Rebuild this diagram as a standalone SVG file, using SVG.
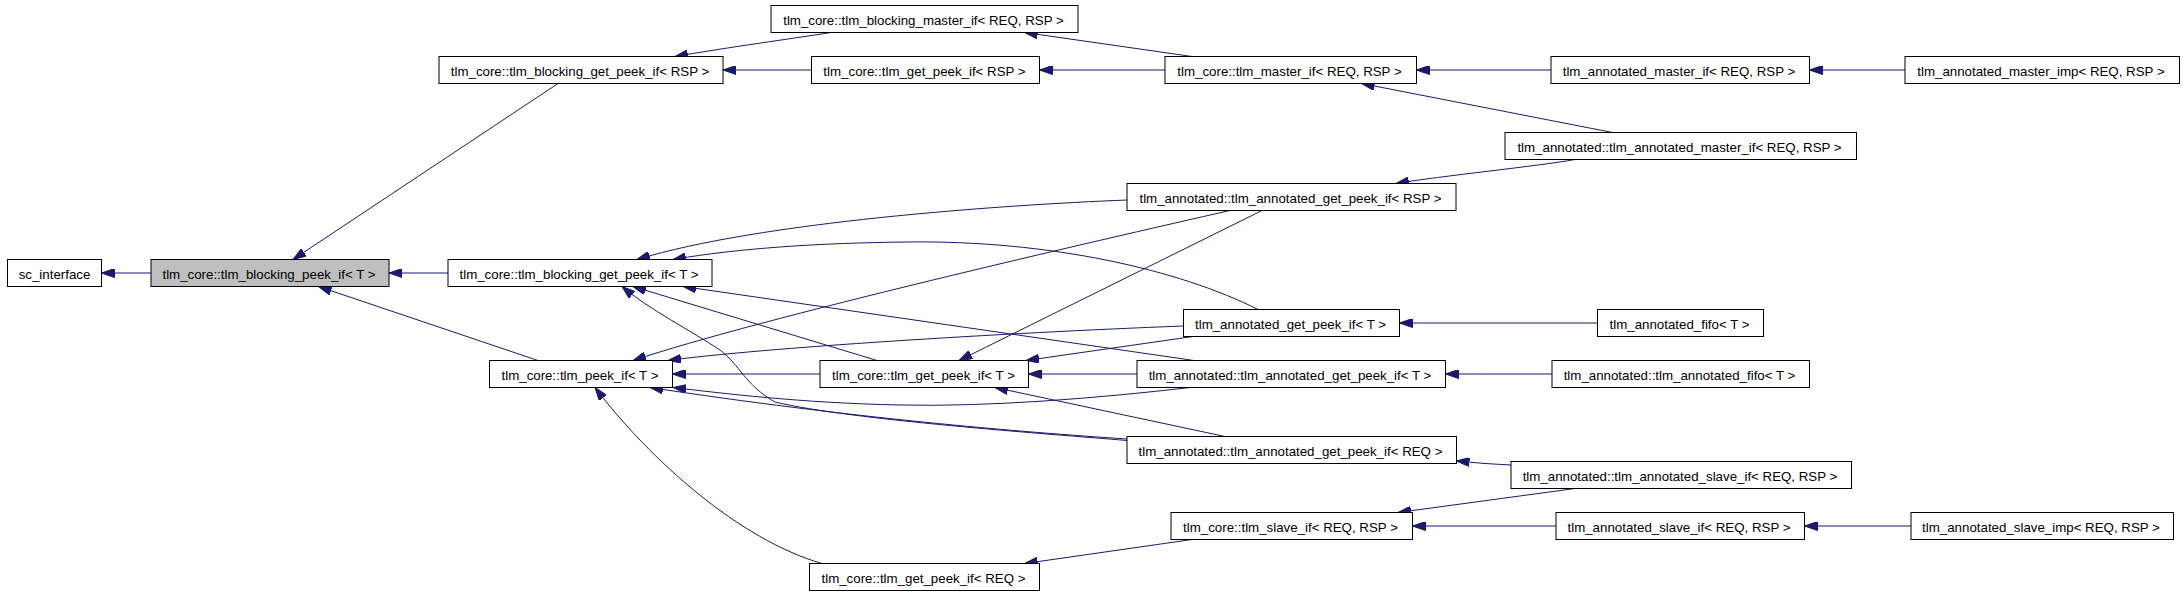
<svg xmlns="http://www.w3.org/2000/svg" width="2184" height="595" viewBox="0 0 2184 595">
<style>
.n rect{fill:#ffffff;stroke:#000000;stroke-width:1}
.n text{font-family:"Liberation Sans",Arial,sans-serif;font-size:13.3px;fill:#000000;text-anchor:middle}
.e path{fill:none;stroke:#191970;stroke-width:1;marker-end:url(#ah)}
</style>
<defs>
<marker id="ah" viewBox="0 0 13 9" refX="13" refY="4.5" markerUnits="userSpaceOnUse" markerWidth="13" markerHeight="9" orient="auto">
<path d="M0,0 L13,4.5 L0,9 z" fill="#191970" stroke="#191970" stroke-width="1"/>
</marker>
</defs>
<rect width="2184" height="595" fill="#ffffff"/>
<g id="edges" class="e">
<path d="M151,273 L101.5,273"/>
<path d="M448,273 L389,273"/>
<path d="M558,83.5 L293,259.5"/>
<path d="M538,360.5 L318.5,286.5"/>
<path d="M811.5,70 L723,70"/>
<path d="M831,32.5 C790,39 730,47 675,56.5"/>
<path d="M1192,56.5 L1024.7,32.5"/>
<path d="M1165,70 L1039.5,70"/>
<path d="M1551,70 L1416.5,70"/>
<path d="M1905,70 L1809.5,70"/>
<path d="M1612.5,132.5 L1361.6,83.5"/>
<path d="M1575,159.5 C1540,166 1440,176 1396,183.5"/>
<path d="M1127,200 C1000,205 760,222 637,259.5"/>
<path d="M1230,210.5 C1100,240 760,318 633,360.5"/>
<path d="M1262,210.5 L959,360.5"/>
<path d="M1258,309.5 C1180,270 1050,240 906,242 C820,243 740,248 673,259.5"/>
<path d="M1183.5,326 C1000,333 760,348 668,360.5"/>
<path d="M1193,336.5 L1026,360.5"/>
<path d="M1597.5,323 L1399.5,323"/>
<path d="M877,360.5 L633,286.5"/>
<path d="M820,374 L672.5,374"/>
<path d="M1194,360.5 L683,286.5"/>
<path d="M1137,374 L1028.5,374"/>
<path d="M1190,387.5 C1100,398 990,407 900,405 C800,403 720,393 673,387.5"/>
<path d="M1552,374 L1445.5,374"/>
<path d="M1127,440.5 C1050,434 850,420 775,402 C745,385 740,365 720,350 C690,330 650,310 622,286.5"/>
<path d="M1127,439 C1020,432 850,418 650,387.5"/>
<path d="M1225,436.5 L995,387.5"/>
<path d="M1511,465 L1485,463.5 L1456.5,461"/>
<path d="M1575,488.5 L1398,512.5"/>
<path d="M1192,539.5 L1024.7,563.5"/>
<path d="M1556,526 L1412.5,526"/>
<path d="M1911,526 L1804.5,526"/>
<path d="M822,563.5 C740,540 650,460 595,387.5"/>
</g>
<g id="sc_interface" class="n"><rect x="7.5" y="259.5" width="94" height="27"/><text x="54.5" y="278.5">sc_interface</text></g>
<g id="tlm_blocking_peek_if_T" class="n"><rect x="151" y="259.5" width="238" height="27" style="fill:#bfbfbf"/><text x="269" y="278.5">tlm_core::tlm_blocking_peek_if&lt; T &gt;</text></g>
<g id="tlm_blocking_get_peek_if_RSP" class="n"><rect x="439" y="56.5" width="284" height="27"/><text x="580" y="75.5">tlm_core::tlm_blocking_get_peek_if&lt; RSP &gt;</text></g>
<g id="tlm_blocking_get_peek_if_T" class="n"><rect x="448" y="259.5" width="264" height="27"/><text x="579" y="278.5">tlm_core::tlm_blocking_get_peek_if&lt; T &gt;</text></g>
<g id="tlm_blocking_master_if" class="n"><rect x="771" y="5.5" width="307" height="27"/><text x="923.5" y="24.5">tlm_core::tlm_blocking_master_if&lt; REQ, RSP &gt;</text></g>
<g id="tlm_get_peek_if_RSP" class="n"><rect x="811.5" y="56.5" width="228" height="27"/><text x="924.5" y="75.5">tlm_core::tlm_get_peek_if&lt; RSP &gt;</text></g>
<g id="tlm_master_if" class="n"><rect x="1165" y="56.5" width="251.5" height="27"/><text x="1289.5" y="75.5">tlm_core::tlm_master_if&lt; REQ, RSP &gt;</text></g>
<g id="tlm_annotated_master_if" class="n"><rect x="1551" y="56.5" width="258.5" height="27"/><text x="1679" y="75.5">tlm_annotated_master_if&lt; REQ, RSP &gt;</text></g>
<g id="tlm_annotated_master_imp" class="n"><rect x="1905" y="56.5" width="274.5" height="27"/><text x="2041" y="75.5">tlm_annotated_master_imp&lt; REQ, RSP &gt;</text></g>
<g id="ann_tlm_annotated_master_if" class="n"><rect x="1505" y="132.5" width="351.5" height="27"/><text x="1679.5" y="151.5">tlm_annotated::tlm_annotated_master_if&lt; REQ, RSP &gt;</text></g>
<g id="ann_tlm_annotated_get_peek_if_RSP" class="n"><rect x="1127" y="183.5" width="329" height="27"/><text x="1290.5" y="202.5">tlm_annotated::tlm_annotated_get_peek_if&lt; RSP &gt;</text></g>
<g id="tlm_annotated_get_peek_if_T" class="n"><rect x="1183.5" y="309.5" width="216" height="27"/><text x="1290.5" y="328.5">tlm_annotated_get_peek_if&lt; T &gt;</text></g>
<g id="tlm_annotated_fifo_T" class="n"><rect x="1597.5" y="309.5" width="166" height="27"/><text x="1679.5" y="328.5">tlm_annotated_fifo&lt; T &gt;</text></g>
<g id="tlm_peek_if_T" class="n"><rect x="489.5" y="360.5" width="183" height="27"/><text x="580" y="379.5">tlm_core::tlm_peek_if&lt; T &gt;</text></g>
<g id="tlm_get_peek_if_T" class="n"><rect x="820" y="360.5" width="208.5" height="27"/><text x="923.5" y="379.5">tlm_core::tlm_get_peek_if&lt; T &gt;</text></g>
<g id="ann_tlm_annotated_get_peek_if_T" class="n"><rect x="1137" y="360.5" width="308.5" height="27"/><text x="1290" y="379.5">tlm_annotated::tlm_annotated_get_peek_if&lt; T &gt;</text></g>
<g id="ann_tlm_annotated_fifo_T" class="n"><rect x="1552" y="360.5" width="257.5" height="27"/><text x="1679.5" y="379.5">tlm_annotated::tlm_annotated_fifo&lt; T &gt;</text></g>
<g id="ann_tlm_annotated_get_peek_if_REQ" class="n"><rect x="1127" y="436.5" width="329.5" height="27"/><text x="1290.5" y="455.5">tlm_annotated::tlm_annotated_get_peek_if&lt; REQ &gt;</text></g>
<g id="ann_tlm_annotated_slave_if" class="n"><rect x="1511" y="461.5" width="340.5" height="27"/><text x="1680" y="480.5">tlm_annotated::tlm_annotated_slave_if&lt; REQ, RSP &gt;</text></g>
<g id="tlm_slave_if" class="n"><rect x="1171" y="512.5" width="241.5" height="27"/><text x="1290.5" y="531.5">tlm_core::tlm_slave_if&lt; REQ, RSP &gt;</text></g>
<g id="tlm_annotated_slave_if" class="n"><rect x="1556" y="512.5" width="248.5" height="27"/><text x="1679" y="531.5">tlm_annotated_slave_if&lt; REQ, RSP &gt;</text></g>
<g id="tlm_annotated_slave_imp" class="n"><rect x="1911" y="512.5" width="262.5" height="27"/><text x="2041" y="531.5">tlm_annotated_slave_imp&lt; REQ, RSP &gt;</text></g>
<g id="tlm_get_peek_if_REQ" class="n"><rect x="809.5" y="563.5" width="230" height="27"/><text x="923.5" y="582.5">tlm_core::tlm_get_peek_if&lt; REQ &gt;</text></g>
</svg>
